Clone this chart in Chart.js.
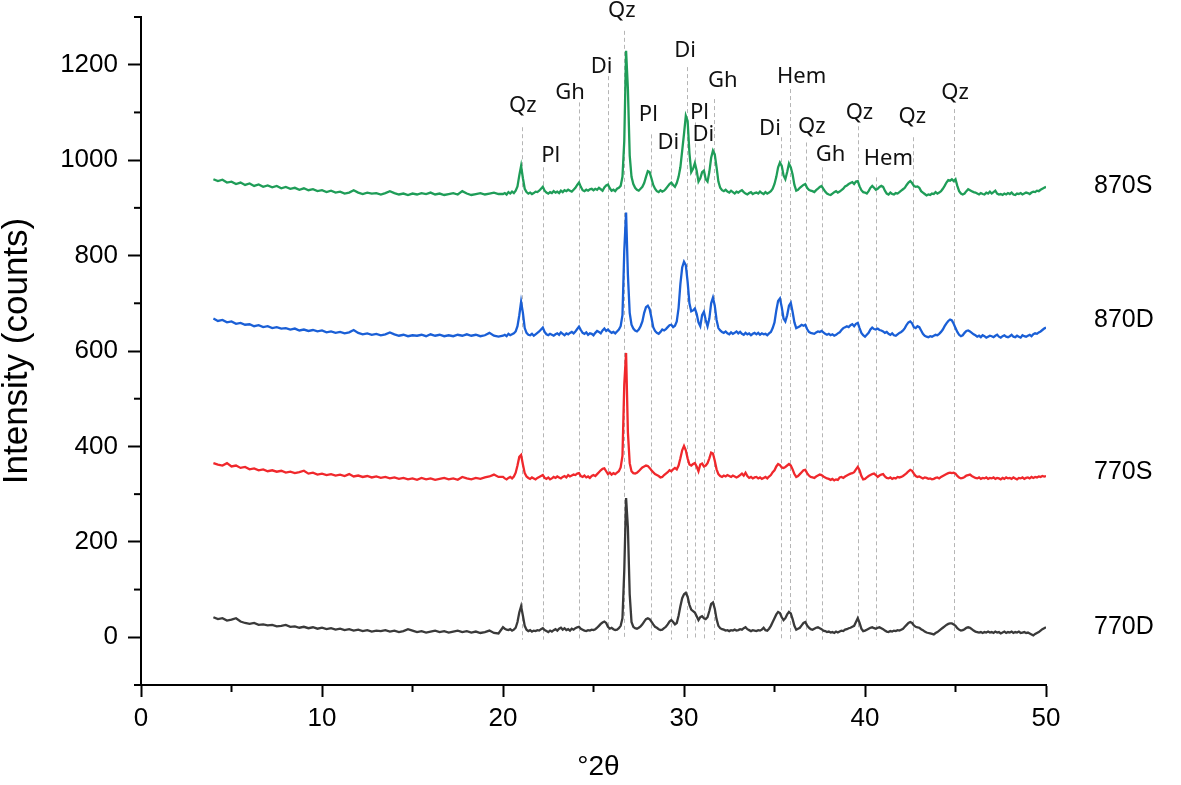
<!DOCTYPE html>
<html>
<head>
<meta charset="utf-8">
<script src="https://cdn.jsdelivr.net/npm/chart.js@4.4.1/dist/chart.umd.min.js"></script>
<style>
  html, body { margin: 0; padding: 0; background: #fff; }
  canvas { display: block; }
</style>
</head>
<body>
<canvas id="xrd" width="1181" height="785"></canvas>
<script>
// 2θ grid: coarse part of the scan (4–19.75°, 0.25° step), then the 0.1° scan from 20° to 50°
const lowTheta = [4, 4.25, 4.5, 4.75, 5, 5.25, 5.5, 5.75, 6, 6.25, 6.5, 6.75, 7, 7.25, 7.5, 7.75,
  8, 8.25, 8.5, 8.75, 9, 9.25, 9.5, 9.75, 10, 10.25, 10.5, 10.75, 11, 11.25, 11.5, 11.75,
  12, 12.25, 12.5, 12.75, 13, 13.25, 13.5, 13.75, 14, 14.25, 14.5, 14.75, 15, 15.25, 15.5, 15.75,
  16, 16.25, 16.5, 16.75, 17, 17.25, 17.5, 17.75, 18, 18.25, 18.5, 18.75, 19, 19.25, 19.5, 19.75];
const scanStart = 20, scanStep = 0.1, scanCount = 301;
const scanTheta = [];
for (let i = 0; i < scanCount; i++) scanTheta.push(+(scanStart + i * scanStep).toFixed(1));
const twoTheta = lowTheta.concat(scanTheta);

// intensities (counts), already offset as in the figure
const s870S = [960, 956, 959, 953, 955, 950, 953, 948,
  951, 946, 949, 944, 947, 943, 946, 941,
  944, 940, 942, 938, 941, 937, 939, 935,
  937, 933, 936, 932, 934, 930, 932, 937,
  932, 929, 932, 930, 931, 928, 931, 935,
  931, 928, 930, 927, 930, 928, 931, 929,
  932, 928, 930, 927, 929, 931, 928, 935,
  930, 927, 929, 931, 928, 930, 932, 929,
  929, 931, 928, 933, 930, 934, 931, 936, 945, 968,
  988, 962, 940, 933, 930, 932, 929, 931, 934, 933,
  936, 940, 944, 936, 932, 930, 933, 931, 935, 932,
  934, 931, 936, 933, 937, 935, 938, 936, 934, 938,
  942, 948, 953, 944, 937, 935, 938, 936, 939, 940,
  937, 940, 938, 942, 939, 936, 943, 947, 949, 941,
  936, 938, 935, 940, 942, 946, 965, 1040, 1229, 1150,
  1010, 965, 950, 942, 938, 936, 940, 944, 952, 965,
  977, 975, 962, 948, 940, 935, 933, 937, 934, 936,
  940, 945, 950, 953, 948, 944, 952, 965, 985, 1020,
  1055, 1093, 1082, 1015, 975, 982, 994, 978, 955, 962,
  975, 978, 960, 955, 975, 1005, 1020, 1012, 985, 955,
  942, 937, 935, 938, 934, 932, 936, 933, 930, 934,
  932, 935, 937, 933, 930, 928, 931, 933, 929, 931,
  932, 930, 934, 931, 929, 933, 930, 932, 935, 940,
  950, 965, 985, 995, 988, 968, 960, 975, 993, 985,
  970, 948, 936, 938, 942, 945, 948, 950, 942, 938,
  936, 935, 933, 937, 940, 944, 946, 940, 934, 930,
  928, 927, 930, 933, 935, 932, 934, 937, 940, 945,
  947, 950, 952, 954, 950, 955, 956, 945, 937, 933,
  932, 930, 935, 942, 946, 942, 938, 940, 944, 946,
  944, 936, 930, 928, 932, 929, 928, 931, 930, 933,
  936, 939, 942, 948, 953, 956, 952, 946, 944, 945,
  942, 935, 932, 929, 926, 928, 927, 930, 929, 933,
  930, 932, 935, 940, 946, 953, 958, 957, 960, 956,
  960, 946, 935, 930, 928, 930, 935, 939, 937, 935,
  933, 932, 930, 928, 931, 929, 928, 932, 930, 934,
  930, 933, 936, 930, 928, 929, 927, 930, 928, 931,
  929, 932, 928, 927, 930, 929, 931, 928, 930, 932,
  931, 929, 932, 934, 933, 936, 935, 938, 940, 942,
  944];

const s870D = [668, 663, 665, 660, 662, 657, 659, 655,
  656, 652, 654, 650, 652, 648, 650, 647,
  648, 645, 647, 643, 645, 642, 644, 641,
  643, 639, 641, 638, 640, 637, 639, 644,
  638, 635, 637, 634, 636, 633, 635, 639,
  635, 632, 634, 631, 633, 632, 634, 631,
  635, 632, 634, 631, 633, 631, 634, 632,
  635, 632, 634, 631, 633, 638, 632, 630,
  632, 634, 631, 636, 633, 635, 637, 641, 652, 675,
  703, 680, 648, 638, 634, 633, 636, 632, 635, 638,
  641, 645, 649, 640, 635, 633, 636, 634, 632, 635,
  637, 634, 639, 636, 633, 637, 635, 638, 640, 637,
  641, 646, 651, 644, 638, 636, 639, 634, 637, 636,
  633, 638, 642, 640, 637, 643, 647, 642, 645, 641,
  638, 640, 637, 641, 645, 652, 675, 810, 890, 760,
  680, 655, 647, 643, 641, 645, 652, 662, 680, 692,
  695, 688, 670, 650, 642, 638, 636, 640, 645, 643,
  646, 650, 654, 655, 650, 653, 662, 690, 740, 775,
  787, 780, 745, 700, 683, 685, 689, 678, 660, 652,
  675, 682, 665, 652, 668, 700, 712, 695, 665, 648,
  643, 640, 638, 641, 637, 635, 639, 636, 638, 641,
  637, 640, 636, 634, 638, 635, 637, 633, 636, 638,
  635, 638, 634, 637, 635, 636, 633, 637, 640, 648,
  660, 685, 705, 710, 692, 668, 662, 675, 695, 701,
  682, 660, 648, 650, 652, 655, 653, 655, 646, 640,
  638, 637, 636, 639, 641, 640, 642, 639, 636, 634,
  636, 633, 635, 632, 634, 637, 639, 644, 648, 650,
  652, 650, 654, 656, 652, 657, 659, 648, 638, 633,
  630, 634, 638, 645, 649, 646, 645, 647, 644, 643,
  641, 638, 640, 636, 634, 637, 633, 632, 635, 638,
  640, 643, 648, 655, 660, 662, 658, 650, 648, 652,
  650, 643, 636, 632, 630, 629, 631, 630, 632, 634,
  633, 636, 640, 645, 652, 658, 663, 666, 664, 657,
  648, 640, 634, 631, 633, 638, 642, 643, 641, 638,
  635, 633, 630, 632, 629, 633, 631, 628, 630, 632,
  631, 629, 632, 634, 630, 628, 631, 633, 630, 629,
  631, 634, 630, 629, 632, 630, 628, 633, 631, 630,
  632, 634, 631, 635, 637, 636, 639, 641, 644, 647,
  649];

const s770S = [365, 362, 360, 365, 358, 360, 355, 357,
  352, 354, 350, 352, 348, 350, 347, 349,
  345, 347, 344, 346, 349, 343, 345, 341,
  343, 340, 342, 339, 341, 338, 342, 337,
  339, 336, 338, 335, 337, 334, 336, 333,
  335, 332, 334, 331, 333, 330, 334, 331,
  333, 330, 332, 334, 331, 333, 330, 336,
  333, 331, 334, 332, 335, 337, 341, 336,
  336, 333, 331, 334, 336, 333, 337, 345, 360, 378,
  382, 362, 344, 337, 334, 332, 335, 333, 331, 334,
  336, 338, 340, 334, 332, 335, 331, 333, 336, 334,
  337, 335, 333, 336, 338, 335, 340, 337, 339, 341,
  340, 343, 344, 338, 336, 339, 335, 337, 334, 338,
  340, 338, 342, 346, 350, 353, 354, 348, 342, 345,
  341, 344, 342, 345, 348, 356, 380, 530, 596, 430,
  365, 348, 344, 343, 345, 348, 352, 356, 358, 360,
  359, 355, 350, 346, 342, 340, 338, 335, 336, 340,
  343, 346, 350, 348, 352, 355, 352, 360, 375, 392,
  401, 392, 375, 362, 360, 363, 365, 358, 348, 362,
  364, 358, 360, 365, 375, 387, 385, 370, 352, 342,
  338, 336, 339, 337, 340, 338, 336, 339, 337, 335,
  337, 340, 343, 339, 345, 338, 334, 336, 333, 335,
  336, 333, 335, 332, 334, 336, 333, 337, 340, 346,
  350, 358, 363, 361, 356, 355, 357, 360, 363, 360,
  352, 342, 336, 338, 342, 346, 350, 351, 344, 339,
  336, 335, 334, 337, 339, 341, 340, 337, 335, 333,
  332, 330, 332, 329, 331, 330, 335, 336, 334, 337,
  339, 341, 343, 344, 346, 352, 357, 350, 338, 331,
  332, 335, 338, 340, 342, 343, 340, 336, 339, 341,
  342, 337, 334, 333, 335, 332, 334, 333, 336, 335,
  336, 338, 341, 344, 348, 351, 349, 343, 338, 336,
  337, 335, 333, 335, 334, 332, 333, 331, 332, 334,
  335, 333, 336, 338, 340, 342, 344, 345, 344, 345,
  343, 338, 335, 333, 334, 336, 339, 340, 341, 338,
  336, 334, 333, 335, 332, 334, 333, 335, 332, 334,
  333, 335, 332, 334, 333, 331, 334, 332, 335, 333,
  334, 332, 335, 333, 331, 334, 333, 335, 332, 334,
  335, 333, 336, 334, 336, 335, 337, 336, 338, 337,
  338];

const s770D = [42, 38, 40, 35, 37, 40, 33, 30,
  28, 30, 26, 27, 25, 26, 23, 24,
  26, 22, 23, 20, 22, 19, 21, 18,
  20, 17, 19, 16, 18, 15, 17, 14,
  16, 13, 15, 12, 14, 13, 15, 12,
  14, 11, 13, 17, 14, 11, 13, 10,
  12, 14, 11, 13, 10, 12, 14, 11,
  13, 10, 12, 9, 11, 14, 9, 8,
  21, 18, 16, 15, 17, 14, 16, 20, 32, 52,
  65, 45, 24, 16, 13, 15, 12, 14, 13, 15,
  14, 17, 19, 15, 13, 11, 14, 12, 15, 17,
  14, 18, 20, 16, 19, 15, 17, 14, 18, 16,
  19, 21, 22, 18, 16, 14, 13, 15, 14, 16,
  15, 17, 20, 24, 28, 31, 33, 30, 22, 18,
  20, 17, 15, 16, 19, 24, 40, 140, 292, 230,
  90, 32, 22, 19, 18, 20, 23, 27, 33, 38,
  40, 38, 33, 27, 22, 20, 17, 15, 16, 19,
  22, 27, 33, 36, 32, 27, 30, 45, 65, 82,
  90, 93, 85, 68, 58, 55, 52, 44, 36, 42,
  44, 40, 38, 42, 55, 70, 73, 60, 38, 24,
  19, 17, 16, 14, 15, 13, 15, 14, 16, 14,
  15, 17, 16, 19, 21, 17, 15, 13, 15, 14,
  13, 15, 14, 16, 20, 15, 14, 18, 24, 32,
  40, 48, 53, 51, 42, 36, 40, 48, 53, 50,
  38, 24, 16, 18, 20, 25, 30, 32, 25, 20,
  17, 16, 18, 20, 21, 19, 17, 14, 13, 11,
  12, 10, 11, 9, 12, 10, 12, 14, 13, 16,
  17, 19, 20, 22, 24, 32, 40, 30, 18, 13,
  14, 16, 18, 20, 21, 19, 18, 20, 21, 19,
  17, 14, 12, 11, 13, 12, 14, 13, 15, 14,
  16, 18, 22, 26, 30, 32, 30, 25, 22, 21,
  20, 17, 15, 12, 10, 9, 8, 7, 6, 9,
  11, 14, 17, 20, 23, 26, 28, 29, 29, 27,
  24, 19, 16, 14, 15, 17, 20, 21, 20, 17,
  14, 12, 11, 10, 11, 9, 11, 10, 12, 10,
  11, 9, 12, 10, 11, 8, 10, 12, 9, 11,
  10, 12, 9, 11, 10, 12, 9, 10, 11, 9,
  10, 8, 6, 4, 7, 9, 11, 14, 17, 19,
  21];

const seriesNames = ['870S', '870D', '770S', '770D'];
const seriesColors = ['#1f9d58', '#1a5fd6', '#f0282c', '#3a3a3a'];
const seriesLabelCounts = [945, 664, 347, 21];

// phase markers: where the dashed line sits, and where its label is written
const peakPhase = ['Qz', 'Pl', 'Gh', 'Di', 'Qz', 'Pl', 'Di', 'Di', 'Pl', 'Di', 'Gh',
  'Di', 'Hem', 'Qz', 'Gh', 'Qz', 'Hem', 'Qz', 'Qz'];
const peakTheta = [21.07, 22.19, 24.22, 25.78, 26.70, 28.16, 29.28, 30.18, 30.61, 31.10, 31.66,
  35.34, 35.86, 36.74, 37.61, 39.63, 40.59, 42.63, 44.92];
const peakLineTop = [1069, 985, 1121, 1176, 1271, 1054, 1012, 1195, 1079, 1033, 1128,
  1048, 1149, 1037, 985, 1071, 964, 1048, 1107];
const peakLabelTheta = [21.09, 22.64, 23.70, 25.45, 26.56, 28.03, 29.13, 30.06, 30.85, 31.07, 32.14,
  34.75, 36.50, 37.06, 38.10, 39.69, 41.29, 42.61, 44.97];
const peakLabelCounts = [1115, 1010, 1142, 1195, 1313, 1096, 1037, 1229, 1100, 1054, 1166,
  1065, 1174, 1069, 1012, 1100, 1002, 1090, 1142];
const peakLineBottom = -5;

const yMajor = [0, 200, 400, 600, 800, 1000, 1200];
const yMinor = [-100, 100, 300, 500, 700, 900, 1100, 1300];
const xMinor = [5, 15, 25, 35, 45];

function points(vals) {
  return vals.map((v, i) => ({ x: twoTheta[i], y: v }));
}

const markers = {
  id: 'markers',
  beforeDatasetsDraw(chart) {
    const { ctx, scales: { x, y } } = chart;
    ctx.save();
    ctx.strokeStyle = '#b5b5b5';
    ctx.lineWidth = 1;
    ctx.setLineDash([4, 3]);
    peakTheta.forEach((t, i) => {
      const px = Math.round(x.getPixelForValue(t)) + 0.5;
      ctx.beginPath();
      ctx.moveTo(px, y.getPixelForValue(peakLineTop[i]));
      ctx.lineTo(px, y.getPixelForValue(peakLineBottom));
      ctx.stroke();
    });
    ctx.restore();
  },
  afterDraw(chart) {
    const { ctx, scales: { x, y } } = chart;
    ctx.save();
    // minor ticks
    ctx.strokeStyle = '#000';
    ctx.lineWidth = 2;
    xMinor.forEach(v => {
      const px = x.getPixelForValue(v);
      ctx.beginPath();
      ctx.moveTo(px, y.bottom);
      ctx.lineTo(px, y.bottom + 7);
      ctx.stroke();
    });
    yMinor.forEach(v => {
      const py = y.getPixelForValue(v);
      ctx.beginPath();
      ctx.moveTo(x.left, py);
      ctx.lineTo(x.left - 7, py);
      ctx.stroke();
    });
    // phase labels
    ctx.fillStyle = '#111';
    ctx.font = '22px "Noto Sans"';
    ctx.textAlign = 'center';
    ctx.textBaseline = 'middle';
    peakPhase.forEach((p, i) => {
      ctx.fillText(p, x.getPixelForValue(peakLabelTheta[i]), y.getPixelForValue(peakLabelCounts[i]));
    });
    // sample names
    ctx.fillStyle = '#000';
    ctx.font = '25px "Liberation Sans"';
    ctx.textAlign = 'left';
    seriesNames.forEach((n, i) => {
      ctx.fillText(n, x.right + 48, y.getPixelForValue(seriesLabelCounts[i]));
    });
    // x title, sits a little right of the axis centre in the original
    ctx.font = '28px "Liberation Sans"';
    ctx.textAlign = 'center';
    ctx.fillText('°2θ', (x.left + x.right) / 2 + 5, 767);
    ctx.restore();
  }
};

const tickFont = { family: '"Liberation Sans", Arial', size: 26 };

new Chart(document.getElementById('xrd').getContext('2d'), {
  type: 'line',
  data: {
    datasets: [s870S, s870D, s770S, s770D].map((s, i) => ({
      label: seriesNames[i],
      data: points(s),
      borderColor: seriesColors[i],
      borderWidth: 2.3,
      pointRadius: 0,
      tension: 0,
      fill: false
    }))
  },
  options: {
    responsive: false,
    animation: false,
    events: [],
    layout: { padding: { top: 17, right: 135, left: 0, bottom: 0 } },
    plugins: { legend: { display: false }, tooltip: { enabled: false } },
    scales: {
      x: {
        type: 'linear', min: 0, max: 50,
        ticks: { stepSize: 10, color: '#000', font: tickFont, padding: 6, maxRotation: 0 },
        grid: { drawOnChartArea: false, tickLength: 12, tickWidth: 2, tickColor: '#000' },
        border: { color: '#000', width: 2 },
        afterFit(scale) { scale.height = 100; scale.paddingLeft = 0; scale.paddingRight = 0; }
      },
      y: {
        min: -100, max: 1300,
        afterBuildTicks(scale) { scale.ticks = yMajor.map(v => ({ value: v })); },
        ticks: { color: '#000', font: tickFont, padding: 10, callback: v => String(v) },
        grid: { drawOnChartArea: false, tickLength: 13, tickWidth: 2, tickColor: '#000' },
        border: { color: '#000', width: 2 },
        title: { display: true, text: 'Intensity (counts)', color: '#000',
          font: { family: '"Liberation Sans", Arial', size: 35 }, padding: { top: -4, bottom: 0 } },
        afterFit(scale) { scale.width = 141; scale.paddingTop = 0; scale.paddingBottom = 0; }
      }
    }
  },
  plugins: [markers]
});
</script>
</body>
</html>
